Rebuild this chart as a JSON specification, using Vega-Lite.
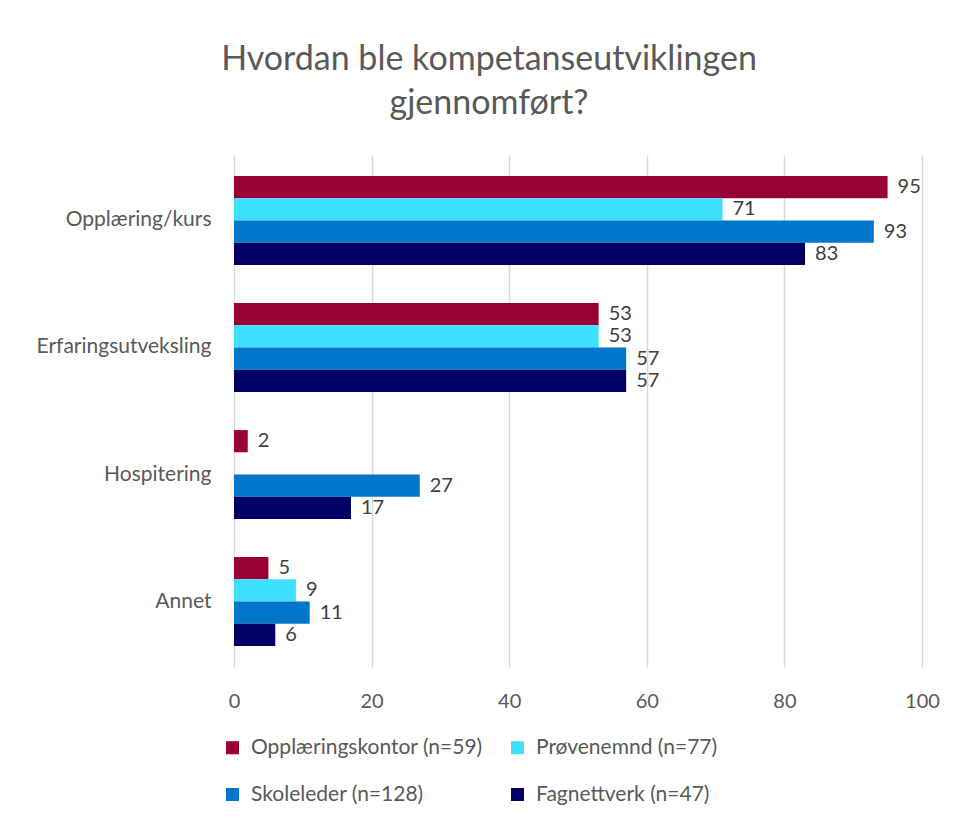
{
  "$schema": "https://vega.github.io/schema/vega-lite/v6.json",
  "width": 688,
  "height": 512,
  "autosize": "none",
  "padding": {"left": 234, "top": 155, "right": 34, "bottom": 156},
  "background": "white",
  "config": {"view": {"stroke": null}},
  "title": {
    "text": ["Hvordan ble kompetanseutviklingen", "gjennomført?"],
    "fontSize": 34,
    "font": "Lato",
    "fontWeight": "normal",
    "color": "#595959",
    "anchor": "middle",
    "dx": -89,
    "offset": 34,
    "lineHeight": 44
  },
  "data": {
    "values": [
      {"kategori": "Opplæring/kurs", "serie": "Opplæringskontor (n=59)", "verdi": 95},
      {"kategori": "Opplæring/kurs", "serie": "Prøvenemnd (n=77)", "verdi": 71},
      {"kategori": "Opplæring/kurs", "serie": "Skoleleder (n=128)", "verdi": 93},
      {"kategori": "Opplæring/kurs", "serie": "Fagnettverk (n=47)", "verdi": 83},
      {"kategori": "Erfaringsutveksling", "serie": "Opplæringskontor (n=59)", "verdi": 53},
      {"kategori": "Erfaringsutveksling", "serie": "Prøvenemnd (n=77)", "verdi": 53},
      {"kategori": "Erfaringsutveksling", "serie": "Skoleleder (n=128)", "verdi": 57},
      {"kategori": "Erfaringsutveksling", "serie": "Fagnettverk (n=47)", "verdi": 57},
      {"kategori": "Hospitering", "serie": "Opplæringskontor (n=59)", "verdi": 2},
      {"kategori": "Hospitering", "serie": "Skoleleder (n=128)", "verdi": 27},
      {"kategori": "Hospitering", "serie": "Fagnettverk (n=47)", "verdi": 17},
      {"kategori": "Annet", "serie": "Opplæringskontor (n=59)", "verdi": 5},
      {"kategori": "Annet", "serie": "Prøvenemnd (n=77)", "verdi": 9},
      {"kategori": "Annet", "serie": "Skoleleder (n=128)", "verdi": 11},
      {"kategori": "Annet", "serie": "Fagnettverk (n=47)", "verdi": 6}
    ]
  },
  "encoding": {
    "y": {
      "field": "kategori",
      "type": "nominal",
      "sort": ["Opplæring/kurs", "Erfaringsutveksling", "Hospitering", "Annet"],
      "scale": {"paddingInner": 0.3, "paddingOuter": 0.165},
      "axis": {"title": null, "ticks": false, "domain": false, "labelFontSize": 21, "labelFont": "Lato", "labelColor": "#595959", "labelPadding": 23, "labelLimit": 300}
    },
    "x": {
      "field": "verdi",
      "type": "quantitative",
      "scale": {"domain": [0, 100], "nice": false},
      "axis": {"title": null, "values": [0, 20, 40, 60, 80, 100], "ticks": false, "domain": false, "labelFlush": false, "gridColor": "#d9d9d9", "gridWidth": 1.5, "labelFontSize": 20, "labelFont": "Lato", "labelColor": "#595959", "labelPadding": 24}
    },
    "yOffset": {
      "field": "serie",
      "type": "nominal",
      "sort": ["Opplæringskontor (n=59)", "Prøvenemnd (n=77)", "Skoleleder (n=128)", "Fagnettverk (n=47)"],
      "scale": {"paddingInner": 0, "paddingOuter": 0}
    }
  },
  "layer": [
    {
      "mark": {"type": "bar"},
      "encoding": {
        "color": {
          "field": "serie",
          "type": "nominal",
          "sort": ["Opplæringskontor (n=59)", "Prøvenemnd (n=77)", "Skoleleder (n=128)", "Fagnettverk (n=47)"],
          "scale": {
            "domain": ["Opplæringskontor (n=59)", "Prøvenemnd (n=77)", "Skoleleder (n=128)", "Fagnettverk (n=47)"],
            "range": ["#990033", "#3EE0FF", "#0077CC", "#000066"]
          },
          "legend": {
            "title": null,
            "orient": "none",
            "legendX": -12,
            "legendY": 582,
            "direction": "horizontal",
            "columns": 2,
            "symbolType": "square",
            "symbolSize": 170,
            "symbolStrokeWidth": 0,
            "labelFontSize": 21,
            "labelFont": "Lato",
            "labelColor": "#595959",
            "labelLimit": 400,
            "labelOffset": 8,
            "columnPadding": 24,
            "rowPadding": 25
          }
        }
      }
    },
    {
      "mark": {"type": "text", "align": "left", "baseline": "middle", "dx": 10, "fontSize": 20, "font": "Lato", "color": "#404040"},
      "encoding": {
        "text": {"field": "verdi", "type": "quantitative"}
      }
    }
  ]
}
